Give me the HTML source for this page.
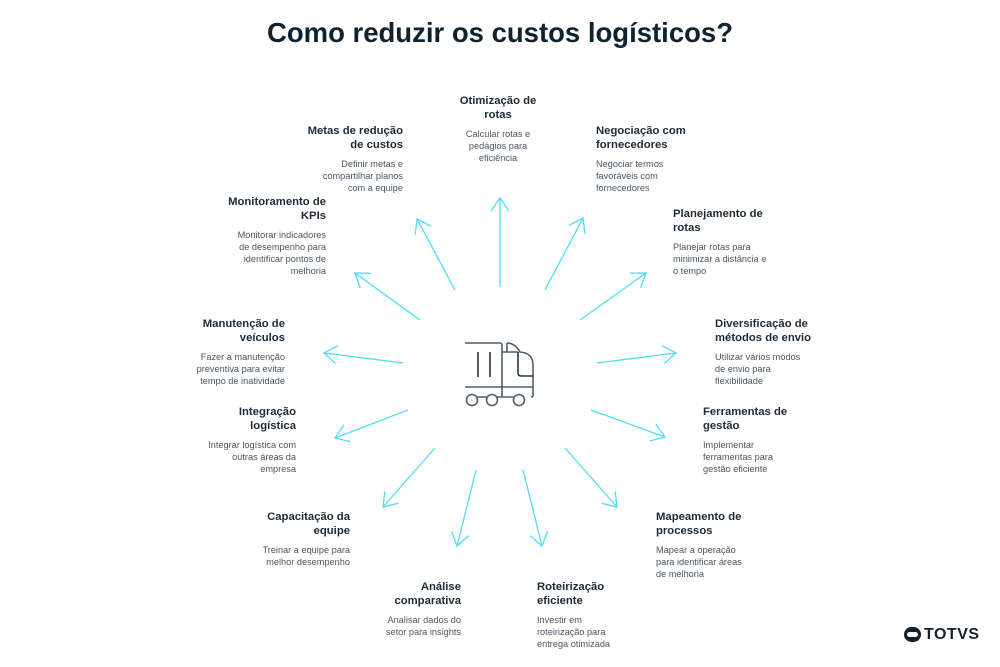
<!DOCTYPE html>
<html><head><meta charset="utf-8"><style>
body{margin:0;width:1000px;height:667px;background:#fff;position:relative;overflow:hidden;font-family:"Liberation Sans",Arial,sans-serif;}
h1{position:absolute;top:17px;left:0;width:1000px;text-align:center;margin:0;font-size:27.5px;font-weight:bold;color:#0f2230;}
.b{position:absolute;width:140px;}
.b .h{font-size:11.3px;font-weight:bold;color:#1c2b38;line-height:14px;}
.b .d{font-size:9.2px;color:#4a5560;line-height:12px;margin-top:6px;}
.r{text-align:right}
.c{text-align:center}
</style></head><body>
<h1>Como reduzir os custos logísticos?</h1>
<svg width="1000" height="667" style="position:absolute;left:0;top:0">
<defs><marker id="a" markerUnits="userSpaceOnUse" markerWidth="30" markerHeight="30" refX="0" refY="0" viewBox="-15 -15 30 30" orient="auto">
<path d="M-13,-9 L0,0 L-13,9" fill="none" stroke="#4fdcf5" stroke-width="1.3"/></marker></defs>
<g stroke="#4fdcf5" stroke-width="1.3" fill="none" marker-end="url(#a)">
<line x1="500" y1="287" x2="500" y2="198"/>
<line x1="455" y1="290" x2="417" y2="219"/>
<line x1="545" y1="290" x2="583" y2="218"/>
<line x1="420" y1="320" x2="355" y2="273"/>
<line x1="580" y1="320" x2="646" y2="273"/>
<line x1="403" y1="363" x2="324" y2="353"/>
<line x1="597" y1="363" x2="676" y2="353"/>
<line x1="408" y1="410" x2="335" y2="438"/>
<line x1="591" y1="410" x2="665" y2="437"/>
<line x1="435" y1="448" x2="383" y2="507"/>
<line x1="565" y1="448" x2="617" y2="507"/>
<line x1="476" y1="470" x2="457" y2="546"/>
<line x1="523" y1="470" x2="542" y2="546"/>
</g>
<g fill="none" stroke="#4d5f6c" stroke-width="1.6">
<path d="M465,343 H500 a2,2 0 0 1 2,2 V397"/>
<path d="M465,387 H533"/>
<path d="M502,352 h16 M507,343 v9 M507,343 q8,0 13,9 q13,1 13,13 V395 q0,2 -2,2"/>
<path d="M518,352 v21 q0,3 3,3 h12" stroke="#233846"/>
<path d="M478,352 v25 M490,352 v25" stroke="#233846"/>
<circle cx="472" cy="400" r="5.5"/><circle cx="492" cy="400" r="5.5"/><circle cx="519" cy="400" r="5.5"/>
<path d="M477.5,397 h9 M497.5,397 h16"/>
</g>
</svg>
<div class="b c" style="left:428px;top:94px"><div class="h">Otimização de<br>rotas</div><div class="d">Calcular rotas e<br>pedágios para<br>eficiência</div></div>
<div class="b r" style="left:263px;top:124px"><div class="h">Metas de redução<br>de custos</div><div class="d">Definir metas e<br>compartilhar planos<br>com a equipe</div></div>
<div class="b r" style="left:186px;top:195px"><div class="h">Monitoramento de<br>KPIs</div><div class="d">Monitorar indicadores<br>de desempenho para<br>identificar pontos de<br>melhoria</div></div>
<div class="b r" style="left:145px;top:317px"><div class="h">Manutenção de<br>veículos</div><div class="d">Fazer a manutenção<br>preventiva para evitar<br>tempo de inatividade</div></div>
<div class="b r" style="left:156px;top:405px"><div class="h">Integração<br>logística</div><div class="d">Integrar logística com<br>outras áreas da<br>empresa</div></div>
<div class="b r" style="left:210px;top:510px"><div class="h">Capacitação da<br>equipe</div><div class="d">Treinar a equipe para<br>melhor desempenho</div></div>
<div class="b r" style="left:321px;top:580px"><div class="h">Análise<br>comparativa</div><div class="d">Analisar dados do<br>setor para insights</div></div>
<div class="b" style="left:537px;top:580px"><div class="h">Roteirização<br>eficiente</div><div class="d">Investir em<br>roteirização para<br>entrega otimizada</div></div>
<div class="b" style="left:656px;top:510px"><div class="h">Mapeamento de<br>processos</div><div class="d">Mapear a operação<br>para identificar áreas<br>de melhoria</div></div>
<div class="b" style="left:703px;top:405px"><div class="h">Ferramentas de<br>gestão</div><div class="d">Implementar<br>ferramentas para<br>gestão eficiente</div></div>
<div class="b" style="left:715px;top:317px"><div class="h">Diversificação de<br>métodos de envio</div><div class="d">Utilizar vários modos<br>de envio para<br>flexibilidade</div></div>
<div class="b" style="left:673px;top:207px"><div class="h">Planejamento de<br>rotas</div><div class="d">Planejar rotas para<br>minimizar a distância e<br>o tempo</div></div>
<div class="b" style="left:596px;top:124px"><div class="h">Negociação com<br>fornecedores</div><div class="d">Negociar termos<br>favoráveis com<br>fornecedores</div></div>
<div style="position:absolute;left:904px;top:627px;width:17px;height:15px;border-radius:8px;background:#0f2230"><div style="position:absolute;left:3px;top:5px;width:11px;height:5px;background:#fff;border-radius:3px"></div></div>
<div style="position:absolute;left:924px;top:626px;font-size:16px;font-weight:bold;color:#0f2230;letter-spacing:0.5px">TOTVS</div>
</body></html>
